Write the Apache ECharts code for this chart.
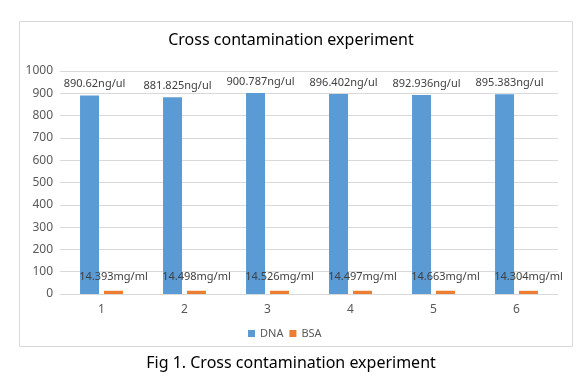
<!DOCTYPE html>
<html><head><meta charset="utf-8">
<script src="https://cdn.jsdelivr.net/npm/echarts@6/dist/echarts.min.js"></script>
<style>html,body{margin:0;padding:0;background:#fff}#c{width:582px;height:379px}</style>
</head><body><div id="c"></div>
<script>
var categories = ['1','2','3','4','5','6'];
var dnaValues = [890.62, 881.825, 900.787, 896.402, 892.936, 895.383];
var bsaValues = [14.393, 14.498, 14.526, 14.497, 14.663, 14.304];
var seriesNames = ['DNA','BSA'];
var FONT = 'Noto Sans';
var chart = echarts.init(document.getElementById('c'));
chart.setOption({
  animation: false,
  textStyle: {fontFamily: FONT},
  title: [
    {text: 'Cross contamination experiment', left: 'center', top: 27,
     textStyle: {fontSize: 16, fontWeight: 'normal', color: '#000', fontFamily: FONT}},
    {text: 'Fig 1. Cross contamination experiment', left: 'center', top: 350,
     textStyle: {fontSize: 16, fontWeight: 'normal', color: '#000', fontFamily: FONT}}
  ],
  graphic: [{type: 'rect', shape: {x: 19.5, y: 21.5, width: 553, height: 325},
    style: {fill: 'none', stroke: '#d9d9d9', lineWidth: 1}, silent: true}],
  legend: {data: seriesNames, top: 323, left: 243, itemWidth: 7, itemHeight: 7, itemGap: 6,
    icon: 'rect', textStyle: {fontSize: 11, color: '#595959', fontFamily: FONT}},
  grid: {left: 60, right: 24, top: 71, bottom: 85},
  xAxis: {type: 'category', data: categories,
    axisLine: {lineStyle: {color: '#d9d9d9'}}, axisTick: {show: false},
    axisLabel: {color: '#595959', fontSize: 12, margin: 10}},
  yAxis: {type: 'value', min: 0, max: 1000, interval: 100,
    axisLine: {show: false}, axisTick: {show: false},
    splitLine: {lineStyle: {color: '#d9d9d9'}},
    axisLabel: {color: '#595959', fontSize: 12, margin: 7, formatter: function(v){return String(v);}}},
  series: [
    {name: 'DNA', type: 'bar', data: dnaValues, barWidth: 19, barGap: '26%',
     itemStyle: {color: '#5B9BD5'},
     label: {show: true, position: 'top', distance: 6, offset: [5, 0], color: '#404040', fontSize: 11,
       formatter: function(p){return p.value + 'ng/ul';}}},
    {name: 'BSA', type: 'bar', data: bsaValues, barWidth: 19,
     itemStyle: {color: '#ED7D31'},
     label: {show: true, position: 'top', distance: 8, color: '#404040', fontSize: 11,
       formatter: function(p){return p.value + 'mg/ml';}}}
  ]
});
</script></body></html>
